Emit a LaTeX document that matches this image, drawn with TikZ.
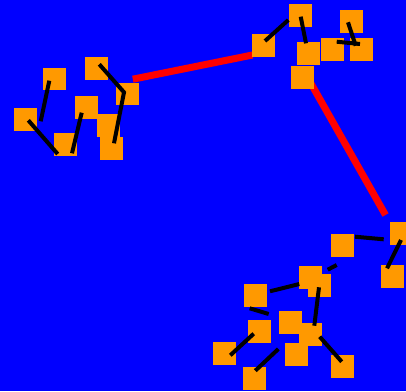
\documentclass[tikz,border=0pt]{standalone}
\usepackage{tikz}
\definecolor{NetBlue}{HTML}{0000FF}
\definecolor{NetOrange}{HTML}{FF9900}
\definecolor{NetRed}{HTML}{FF0000}
\tikzset{
  tile/.style={fill=NetOrange,draw=none,inner sep=0pt,minimum size=22.7pt},
  link/.style={draw=black,line width=4pt},
  bridge/.style={draw=NetRed,line width=7pt},
}
\begin{document}
\begin{tikzpicture}[x=1pt,y=-1pt]
\fill[NetBlue] (0,0) rectangle (406,391);
\useasboundingbox (0,0) rectangle (406,391);
% bridges between the three clusters
\coordinate (br1s) at (132.8,79.2); \coordinate (br1e) at (252.5,55);
\coordinate (br2s) at (309,80); \coordinate (br2e) at (385.5,215);
\draw[bridge] (br1s) -- (br1e);
\draw[bridge] (br2s) -- (br2e);
% left cluster
\node[tile] (a1) at (54.5,79) {}; \node[tile] (a2) at (96.3,68.3) {}; \node[tile] (a3) at (25.3,119.7) {}; \node[tile] (a4) at (86.3,107.3) {};
\node[tile] (a5) at (65.3,144.3) {}; \node[tile] (a6) at (127.3,94) {}; \node[tile] (a7) at (108.2,125.3) {}; \node[tile] (a8) at (111.5,148.3) {};
% top cluster
\node[tile] (b1) at (263.5,45.3) {}; \node[tile] (b2) at (300.3,15.3) {}; \node[tile] (b3) at (308.3,53.3) {}; \node[tile] (b4) at (332.3,49.3) {};
\node[tile] (b5) at (351.3,21.8) {}; \node[tile] (b6) at (361.3,49.8) {}; \node[tile] (b7) at (302.3,77.3) {};
% bottom cluster
\node[tile] (c1) at (342.3,245.3) {}; \node[tile] (c2) at (401.3,233.7) {}; \node[tile] (c3) at (392.3,276.8) {}; \node[tile] (c4) at (310.3,277.3) {};
\node[tile] (c5) at (319.3,285.8) {}; \node[tile] (c6) at (255.3,295.3) {}; \node[tile] (c7) at (290.3,322.7) {}; \node[tile] (c8) at (259.3,331.3) {};
\node[tile] (c9) at (310.3,334.8) {}; \node[tile] (c10) at (224.3,353.3) {}; \node[tile] (c11) at (296.3,354.3) {}; \node[tile] (c12) at (342.3,366.8) {};
\node[tile] (c13) at (254.3,378.3) {};
% links, left cluster
\coordinate (la1) at (49.3,80.7); \coordinate (la2) at (40.7,121.3);
\coordinate (lb1) at (99.3,64.3); \coordinate (lb2) at (124,92.3); \coordinate (lb3) at (114,143.3);
\coordinate (lc1) at (81.7,112.7); \coordinate (lc2) at (72,153.3);
\coordinate (ld1) at (28.3,120.3); \coordinate (ld2) at (57.7,154);
\draw[link] (la1) -- (la2);
\draw[link] (lb1) -- (lb2) -- (lb3);
\draw[link] (lc1) -- (lc2);
\draw[link] (ld1) -- (ld2);
% links, top cluster
\coordinate (le1) at (265,41); \coordinate (le2) at (288.3,20);
\coordinate (lf1) at (300.7,16.7); \coordinate (lf2) at (306,43.3);
\coordinate (lg1) at (348,22.3); \coordinate (lg2) at (355.7,45.7);
\coordinate (lh1) at (336.7,41.7); \coordinate (lh2) at (360,44);
\draw[link] (le1) -- (le2);
\draw[link] (lf1) -- (lf2);
\draw[link] (lg1) -- (lg2);
\draw[link] (lh1) -- (lh2);
% links, bottom cluster
\coordinate (li1) at (355,236.7); \coordinate (li2) at (383.7,239.3);
\coordinate (lj1) at (401,240); \coordinate (lj2) at (387,268.3);
\coordinate (lk1) at (336.7,265); \coordinate (lk2) at (327.7,269.7);
\coordinate (ll1) at (299.3,284); \coordinate (ll2) at (270,291.3);
\coordinate (lm1) at (249.7,308.3); \coordinate (lm2) at (268.7,314);
\coordinate (ln1) at (319,287.3); \coordinate (ln2) at (314.3,325.7);
\coordinate (lo1) at (253.7,333.7); \coordinate (lo2) at (230.3,355.3);
\coordinate (lp1) at (278.3,349); \coordinate (lp2) at (255.3,370.7);
\coordinate (lq1) at (319.7,336.7); \coordinate (lq2) at (341.7,361.7);
\draw[link] (li1) -- (li2);
\draw[link] (lj1) -- (lj2);
\draw[link] (lk1) -- (lk2);
\draw[link] (ll1) -- (ll2);
\draw[link] (lm1) -- (lm2);
\draw[link] (ln1) -- (ln2);
\draw[link] (lo1) -- (lo2);
\draw[link] (lp1) -- (lp2);
\draw[link] (lq1) -- (lq2);
\end{tikzpicture}
\end{document}
